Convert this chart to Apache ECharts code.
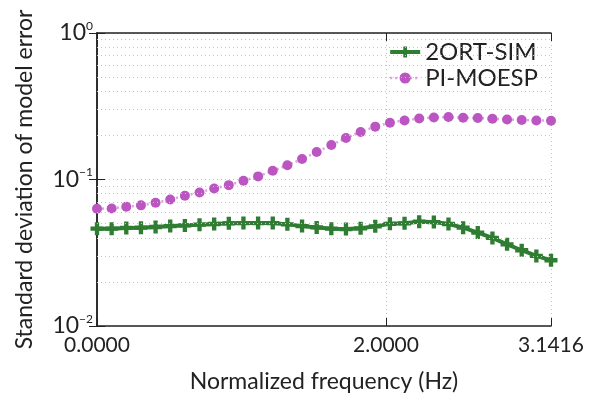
<!DOCTYPE html>
<html>
<head>
<meta charset="utf-8">
<script src="https://cdn.jsdelivr.net/npm/echarts@6/dist/echarts.min.js"></script>
<style>
  html, body { margin: 0; padding: 0; background: #fff; }
  #chart { width: 590px; height: 398px; }
</style>
</head>
<body>
<div id="chart"></div>
<script>
// normalized frequency, 32 samples from 0 to pi
const freqStep = 3.1416 / 31
const sampleCount = 32

const ortSim = [
  0.0462, 0.0462, 0.0467, 0.0469, 0.0474, 0.0481, 0.0486, 0.0492,
  0.0497, 0.0502, 0.0504, 0.0504, 0.0504, 0.0494, 0.0481, 0.0471,
  0.0462, 0.0459, 0.0464, 0.0479, 0.0498, 0.0502, 0.0515, 0.0512,
  0.0497, 0.0469, 0.0434, 0.0399, 0.0361, 0.0329, 0.0301, 0.0281
]
const piMoesp = [
  0.0632, 0.0634, 0.0652, 0.0666, 0.0694, 0.0731, 0.0775, 0.0816,
  0.0869, 0.0915, 0.0980, 0.1050, 0.1146, 0.1250, 0.1380, 0.1540,
  0.1720, 0.1920, 0.2110, 0.2295, 0.2440, 0.2530, 0.2610, 0.2650,
  0.2670, 0.2640, 0.2630, 0.2600, 0.2570, 0.2550, 0.2530, 0.2520
]
const minorGrid = [0.02, 0.03, 0.04, 0.05, 0.06, 0.07, 0.08, 0.09,
                   0.2, 0.3, 0.4, 0.5, 0.6, 0.7, 0.8, 0.9]

const freqs = []
for (let i = 0; i < sampleCount; i++) freqs.push(i * freqStep)
const pair = (ys) => ys.map((y, i) => [freqs[i], y])

const font = 'Lato'
const plusPath = 'path://M4,0H8V4H12V8H8V12H4V8H0V4H4Z'
const green = '#2e7d32'
const purple = '#bb55c2'
const gridDot = { type: [1, 3], color: '#c4c4c4', width: 1 }

const chart = echarts.init(document.getElementById('chart'))
chart.setOption({
  animation: false,
  textStyle: { fontFamily: font },
  grid: { left: 97, right: 39, top: 33, bottom: 71 },
  legend: {
    right: 47, top: 35, orient: 'vertical',
    itemGap: 2, itemWidth: 30, itemHeight: 14,
    textStyle: { fontFamily: font, fontSize: 24, color: '#222' },
    data: [
      { name: '2ORT-SIM', lineStyle: { width: 4 } },
      { name: 'PI-MOESP', lineStyle: { width: 2.5 } }
    ]
  },
  xAxis: [
    {
      type: 'value', min: 0, max: 3.1416, interval: 2,
      name: 'Normalized frequency (Hz)', nameLocation: 'middle', nameGap: 44,
      nameTextStyle: { fontFamily: font, fontSize: 23, color: '#222' },
      axisLine: { lineStyle: { color: '#222', width: 1.5 } },
      axisTick: { inside: true, length: 8, lineStyle: { color: '#222' } },
      axisLabel: { fontFamily: font, fontSize: 21, color: '#222', margin: 9,
        formatter: v => v.toFixed(4) },
      splitLine: { show: true, lineStyle: gridDot }
    },
    {
      type: 'value', min: 0, max: 3.1416, interval: 2, position: 'top',
      axisLine: { lineStyle: { color: '#222', width: 1.5 } },
      axisTick: { inside: true, length: 8, lineStyle: { color: '#222' } },
      axisLabel: { show: false }, splitLine: { show: false }
    }
  ],
  yAxis: [
    {
      type: 'log', logBase: 10, min: 0.01, max: 1,
      name: 'Standard deviation of model error', nameLocation: 'middle', nameGap: 61,
      nameTextStyle: { fontFamily: font, fontSize: 23, color: '#222' },
      axisLine: { lineStyle: { color: '#222', width: 1.5 } },
      axisTick: { inside: true, length: 8, lineStyle: { color: '#222' } },
      axisLabel: {
        margin: 4, color: '#222',
        formatter: v => {
          const e = Math.round(Math.log10(v))
          return '{b|10}{s|' + (e < 0 ? '\u2212' + (-e) : e) + '}'
        },
        rich: {
          b: { fontFamily: font, fontSize: 23, color: '#222' },
          s: { fontFamily: font, fontSize: 12, color: '#222', padding: [0, 0, 14, 0] }
        }
      },
      splitLine: { show: true, lineStyle: gridDot }
    },
    {
      type: 'log', logBase: 10, min: 0.01, max: 1, position: 'right',
      axisLine: { lineStyle: { color: '#222', width: 1.5 } },
      axisTick: { inside: true, length: 8, lineStyle: { color: '#222' } },
      axisLabel: { show: false }, splitLine: { show: false }
    }
  ],
  series: [
    {
      type: 'line', data: [], silent: true, z: 1,
      markLine: {
        silent: true, symbol: 'none', label: { show: false },
        lineStyle: gridDot,
        data: minorGrid.map(v => ({ yAxis: v }))
      }
    },
    {
      name: 'PI-MOESP', type: 'line', z: 3,
      data: pair(piMoesp),
      symbol: 'circle', symbolSize: 10,
      itemStyle: { color: purple },
      lineStyle: { color: purple, width: 2.5, type: [2, 3], opacity: 0.55 }
    },
    {
      name: '2ORT-SIM', type: 'line', z: 4,
      data: pair(ortSim),
      symbol: plusPath, symbolSize: 13,
      itemStyle: { color: green },
      lineStyle: { color: green, width: 4 }
    }
  ]
})
</script>
</body>
</html>
